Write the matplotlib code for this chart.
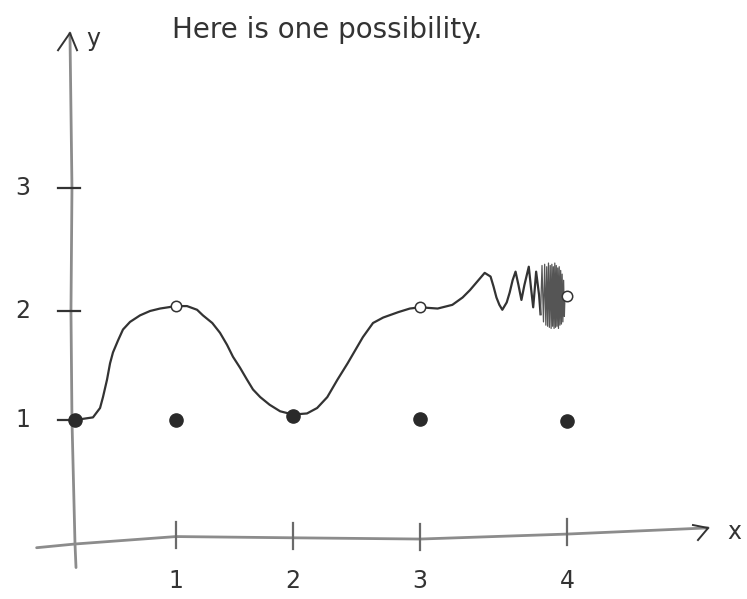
import numpy as np
import matplotlib
matplotlib.use("Agg")
import matplotlib.pyplot as plt

# ---------------- data ----------------
curve_x = [0, 0.178, 0.248, 0.277, 0.317, 0.347, 0.376, 0.426, 0.475, 0.545, 0.644, 0.743,
           0.842, 1.0, 1.094, 1.18, 1.23, 1.31, 1.376, 1.436, 1.487, 1.547, 1.607, 1.658,
           1.72, 1.80, 1.89, 2.0, 2.11, 2.19, 2.27, 2.35, 2.43, 2.49, 2.55, 2.63, 2.71,
           2.83, 2.92, 3.0, 3.12, 3.22, 3.29, 3.34, 3.39, 3.44, 3.48, 3.50, 3.52, 3.54,
           3.56, 3.59, 3.61, 3.63, 3.65, 3.67, 3.69, 3.71, 3.74, 3.755, 3.77, 3.78, 3.79,
           3.81, 3.82]
curve_y = [1.0, 1.024, 1.11, 1.21, 1.37, 1.52, 1.62, 1.73, 1.83, 1.90, 1.96, 2.00,
           2.02, 2.04, 2.04, 2.01, 1.96, 1.89, 1.80, 1.69, 1.58, 1.48, 1.37, 1.28,
           1.21, 1.14, 1.08, 1.05, 1.06, 1.11, 1.21, 1.37, 1.52, 1.64, 1.76, 1.89, 1.94,
           1.99, 2.02, 2.03, 2.02, 2.05, 2.11, 2.17, 2.24, 2.31, 2.28, 2.20, 2.11, 2.05,
           2.01, 2.07, 2.15, 2.25, 2.32, 2.21, 2.09, 2.21, 2.36, 2.19, 2.03, 2.17, 2.32,
           2.13, 1.97]

scribble_x = [3.83, 3.84, 3.848, 3.856, 3.862, 3.868, 3.874, 3.88, 3.886, 3.892, 3.897,
              3.902, 3.907, 3.912, 3.917, 3.922, 3.927, 3.932, 3.937, 3.942, 3.947, 3.952,
              3.957, 3.962, 3.967, 3.972, 3.977, 3.982, 3.987]
scribble_y = [2.37, 1.90, 2.38, 1.87, 2.36, 1.86, 2.39, 1.85, 2.37, 1.84, 2.38, 1.86,
              2.36, 1.84, 2.39, 1.85, 2.37, 1.86, 2.35, 1.84, 2.36, 1.87, 2.33, 1.88,
              2.30, 1.90, 2.25, 1.95, 2.15]

dot_x = [0, 1, 2, 3, 4]
dot_y = [1.0, 1.0, 1.04, 1.01, 0.99]

hole_x = [1, 3, 4]
hole_y = [2.04, 2.03, 2.12]

xaxis_x = [-0.38, 0, 1, 2, 3, 4, 4.96]
xaxis_y = [-0.03, 0, 0.06, 0.05, 0.04, 0.08, 0.13]
yaxis_x = [0.01, 0.0, -0.03, -0.04, -0.03, -0.05]
yaxis_y = [-0.19, 0, 1, 2, 3, 4.26]

x_ticks = [1, 2, 3, 4]
y_ticks = [1, 2, 3]
x_tick_labels = ["1", "2", "3", "4"]
y_tick_labels = ["1", "2", "3"]
title = "Here is one possibility."

# ---------------- hand-drawn (uneven) scales ----------------
xk_d = [-10, 0, 1, 2, 3, 4, 10]
xk_p = [75 - 1010, 75, 176, 293, 420, 567, 567 + 6 * 147]
yk_d = [-10, 0, 1, 2, 3, 10]
yk_p = [55 - 1240, 55, 179, 288, 411, 411 + 7 * 123]

def fx(v):
    return np.interp(v, xk_d, xk_p)

def ifx(v):
    return np.interp(v, xk_p, xk_d)

def fy(v):
    return np.interp(v, yk_d, yk_p)

def ify(v):
    return np.interp(v, yk_p, yk_d)

fig = plt.figure(figsize=(7.47, 5.99), dpi=100)
ax = fig.add_axes([0, 0, 1, 1])
ax.set_xscale("function", functions=(fx, ifx))
ax.set_yscale("function", functions=(fy, ify))
ax.set_xlim(ifx(0), ifx(747))
ax.set_ylim(ify(0), ify(599))
ax.axis("off")

axis_col = "#8c8c8c"
ink = "#333333"
font = dict(family=["DejaVu Sans"], color=ink)

# axes
ax.plot(xaxis_x, xaxis_y, color=axis_col, lw=2.0, solid_capstyle="round")
ax.plot(yaxis_x, yaxis_y, color=axis_col, lw=2.0, solid_capstyle="round")
# arrow heads
ax.plot([4.857, 4.96, 4.891], [0.153, 0.129, 0.032], color=ink, lw=1.4)
ax.plot([-0.168, -0.05, 0.02], [4.12, 4.26, 4.12], color=ink, lw=1.4)

# tick marks and labels
for i, t in enumerate(x_ticks):
    base = np.interp(t, xaxis_x, xaxis_y)
    ax.plot([t, t], [base - 0.09, base + 0.12], color="#6a6a6a", lw=1.6)
    ax.text(t, -0.30, x_tick_labels[i], ha="center", va="center", fontsize=17, **font)
for i, t in enumerate(y_ticks):
    ax.plot([-0.17, 0.05], [t, t], color=ink, lw=1.6)
    ax.text(-0.52, t, y_tick_labels[i], ha="center", va="center", fontsize=17, **font)

ax.text(5.14, 0.10, "x", ha="center", va="center", fontsize=17, **font)
ax.text(0.18, 4.21, "y", ha="center", va="center", fontsize=17, **font)

fig.text(172 / 747, 1 - 38 / 599, title, ha="left", va="baseline", fontsize=20, **font)

# curve
ax.plot(curve_x, curve_y, color=ink, lw=1.6, solid_joinstyle="round")
ax.plot([curve_x[-1]] + scribble_x, [curve_y[-1]] + scribble_y, color="#555555", lw=0.9)

# points
ax.plot(dot_x, dot_y, "o", ms=9.5, color="#2a2a2a", mec="#2a2a2a")
ax.plot(hole_x, hole_y, "o", ms=7.5, mfc="white", mec=ink, mew=1.1, zorder=5)

fig.savefig("out.png", dpi=100)
